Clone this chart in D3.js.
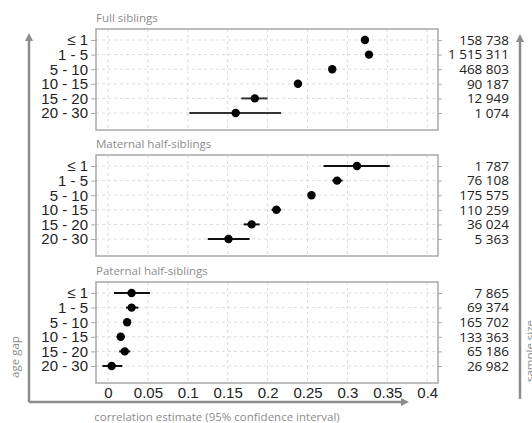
<!DOCTYPE html>
<html>
<head>
<meta charset="utf-8">
<script src="https://cdn.jsdelivr.net/npm/d3@7"></script>
<style>
  body { margin: 0; background: #fff; }
  svg { display: block; }
</style>
</head>
<body>
<svg id="chart" width="532" height="423"></svg>
<script>
const ageGaps = ["≤ 1", "1 - 5", "5 - 10", "10 - 15", "15 - 20", "20 - 30"];
const panelTitles = ["Full siblings", "Maternal half-siblings", "Paternal half-siblings"];

// correlation estimates, lower / upper 95% CI, sample size
const fullEst = [0.322, 0.327, 0.281, 0.238, 0.184, 0.160];
const fullLo = [0.320, 0.325, 0.279, 0.233, 0.167, 0.102];
const fullHi = [0.324, 0.329, 0.283, 0.243, 0.200, 0.217];
const fullN = ["158 738", "1 515 311", "468 803", "90 187", "12 949", "1 074"];

const matEst = [0.312, 0.287, 0.255, 0.211, 0.180, 0.151];
const matLo = [0.270, 0.281, 0.252, 0.205, 0.170, 0.125];
const matHi = [0.353, 0.294, 0.258, 0.217, 0.190, 0.1775];
const matN = ["1 787", "76 108", "175 575", "110 259", "36 024", "5 363"];

const patEst = [0.0296, 0.0296, 0.024, 0.016, 0.021, 0.0046];
const patLo = [0.0075, 0.0225, 0.021, 0.011, 0.014, -0.007];
const patHi = [0.0525, 0.038, 0.027, 0.021, 0.028, 0.018];
const patN = ["7 865", "69 374", "165 702", "133 363", "65 186", "26 982"];

const xTicks = [0, 0.05, 0.1, 0.15, 0.2, 0.25, 0.3, 0.35, 0.4];
const xTickLabels = ["0", "0.05", "0.1", "0.15", "0.2", "0.25", "0.3", "0.35", "0.4"];

const panels = [
  { title: panelTitles[0], est: fullEst, lo: fullLo, hi: fullHi, n: fullN },
  { title: panelTitles[1], est: matEst, lo: matLo, hi: matHi, n: matN },
  { title: panelTitles[2], est: patEst, lo: patLo, hi: patHi, n: patN },
];

const panelLeft = 96;
const panelRight = 438;
const panelTops = [29, 155, 282];
const panelHeight = 101;
const grey = "#8c8c8c";
const sideFont = "'Open Sans', sans-serif";
const tickFont = "'Liberation Sans', Arial, sans-serif";

const svg = d3.select("#chart");

const xScale = d3
  .scaleLinear()
  .domain([-0.015, 0.4135])
  .range([panelLeft, panelRight]);

panels.forEach((p, pi) => {
  const top = panelTops[pi];
  const yScale = d3
    .scalePoint()
    .domain(ageGaps)
    .range([top + 11, top + 84]);

  const g = svg.append("g").attr("class", "panel");

  // grid
  g.selectAll(".vgrid")
    .data(xTicks)
    .enter()
    .append("line")
    .attr("x1", (d) => xScale(d))
    .attr("x2", (d) => xScale(d))
    .attr("y1", top)
    .attr("y2", top + panelHeight)
    .attr("stroke", "#dcdcdc")
    .attr("stroke-dasharray", "3,3");

  g.selectAll(".hgrid")
    .data(ageGaps)
    .enter()
    .append("line")
    .attr("x1", panelLeft)
    .attr("x2", panelRight)
    .attr("y1", (d) => yScale(d))
    .attr("y2", (d) => yScale(d))
    .attr("stroke", "#dcdcdc")
    .attr("stroke-dasharray", "3,3");

  // frame
  g.append("rect")
    .attr("x", panelLeft)
    .attr("y", top)
    .attr("width", panelRight - panelLeft)
    .attr("height", panelHeight)
    .attr("fill", "none")
    .attr("stroke", "#a8a8a8")
    .attr("stroke-width", 1.5);

  // left axis (age gap)
  const yAxis = g
    .append("g")
    .attr("transform", `translate(${panelLeft}, 0)`)
    .call(d3.axisLeft(yScale).tickSize(5).tickPadding(3));
  yAxis.select(".domain").remove();
  yAxis.selectAll("line").attr("stroke", "#aaa");
  yAxis
    .selectAll("text")
    .attr("fill", "#222")
    .style("font-family", tickFont)
    .style("font-size", "15px");

  // right axis (sample size)
  const nScale = d3.scalePoint().domain(d3.range(6)).range(yScale.range());
  const rAxis = g
    .append("g")
    .attr("transform", `translate(${panelRight}, 0)`)
    .call(d3.axisRight(nScale).tickSize(4).tickFormat(() => ""));
  rAxis.select(".domain").remove();
  rAxis.selectAll("line").attr("stroke", "#aaa");

  g.selectAll(".n")
    .data(p.n)
    .enter()
    .append("text")
    .attr("x", 509)
    .attr("y", (_, i) => nScale(i))
    .attr("dy", "0.36em")
    .attr("text-anchor", "end")
    .attr("fill", "#222")
    .style("font-family", sideFont)
    .style("font-size", "13.5px")
    .text((d) => d);

  // confidence intervals
  g.selectAll(".ci")
    .data(ageGaps)
    .enter()
    .append("line")
    .attr("x1", (_, i) => xScale(p.lo[i]))
    .attr("x2", (_, i) => xScale(p.hi[i]))
    .attr("y1", (d) => yScale(d))
    .attr("y2", (d) => yScale(d))
    .attr("stroke", pi === 0 ? "#333" : "#111")
    .attr("stroke-width", 2);

  // estimates
  g.selectAll(".dot")
    .data(ageGaps)
    .enter()
    .append("circle")
    .attr("cx", (_, i) => xScale(p.est[i]))
    .attr("cy", (d) => yScale(d))
    .attr("r", 4.2)
    .attr("fill", "#000");

  // title
  g.append("text")
    .attr("x", panelLeft)
    .attr("y", top - 7)
    .attr("fill", grey)
    .style("font-family", sideFont)
    .style("font-size", "11.5px")
    .text(p.title);

  // bottom axis only on last panel
  if (pi === panels.length - 1) {
    const xAxis = g
      .append("g")
      .attr("transform", `translate(0, ${top + panelHeight})`)
      .call(
        d3
          .axisBottom(xScale)
          .tickValues(xTicks)
          .tickSize(0)
          .tickPadding(4)
          .tickFormat((d, i) => xTickLabels[i])
      );
    xAxis.select(".domain").remove();
    xAxis
      .selectAll("text")
      .attr("fill", "#222")
      .style("font-family", tickFont)
      .style("font-size", "15px");
  }
});

// arrows
const defs = svg.append("defs");
defs
  .append("marker")
  .attr("id", "arrow")
  .attr("viewBox", "0 0 10 10")
  .attr("refX", 5)
  .attr("refY", 5)
  .attr("markerWidth", 3.2)
  .attr("markerHeight", 3.2)
  .attr("orient", "auto")
  .append("path")
  .attr("d", "M0,0 L10,5 L0,10 z")
  .attr("fill", grey);

svg
  .append("path")
  .attr("d", "M29,402 L29,37")
  .attr("stroke", grey)
  .attr("stroke-width", 2.5)
  .attr("fill", "none")
  .attr("marker-end", "url(#arrow)");

svg
  .append("path")
  .attr("d", "M29,402 L405,402")
  .attr("stroke", grey)
  .attr("stroke-width", 2.5)
  .attr("fill", "none")
  .attr("marker-end", "url(#arrow)");

svg
  .append("path")
  .attr("d", "M520,399 L520,38")
  .attr("stroke", grey)
  .attr("stroke-width", 2.5)
  .attr("fill", "none")
  .attr("marker-end", "url(#arrow)");

// axis titles
svg
  .append("text")
  .attr("x", 217)
  .attr("y", 421)
  .attr("text-anchor", "middle")
  .attr("fill", grey)
  .style("font-family", sideFont)
  .style("font-size", "11.5px")
  .text("correlation estimate (95% confidence interval)");

svg
  .append("text")
  .attr("transform", "translate(19, 357) rotate(-90)")
  .attr("text-anchor", "middle")
  .attr("fill", grey)
  .style("font-family", sideFont)
  .style("font-size", "11.5px")
  .text("age gap");

svg
  .append("text")
  .attr("transform", "translate(534, 351) rotate(-90)")
  .attr("text-anchor", "middle")
  .attr("fill", grey)
  .style("font-family", sideFont)
  .style("font-size", "11.5px")
  .text("sample size");
</script>
</body>
</html>
